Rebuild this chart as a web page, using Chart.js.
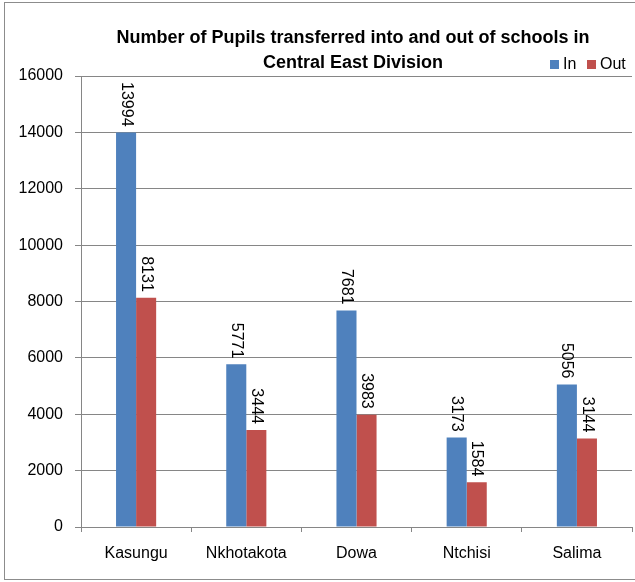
<!DOCTYPE html>
<html>
<head>
<meta charset="utf-8">
<script src="https://cdn.jsdelivr.net/npm/chart.js@4"></script>
<style>
  html, body { margin: 0; padding: 0; background: #fff; }
  #wrap { width: 635px; height: 582px; }
</style>
</head>
<body>
<div id="wrap"><canvas id="transferChart" width="635" height="582"></canvas></div>
<script>
const districts = ['Kasungu', 'Nkhotakota', 'Dowa', 'Ntchisi', 'Salima'];
const pupilsIn = [13994, 5771, 7681, 3173, 5056];
const pupilsOut = [8131, 3444, 3983, 1584, 3144];
const yTicks = [0, 2000, 4000, 6000, 8000, 10000, 12000, 14000, 16000];
const titleLines = ['Number of Pupils transferred into and out of schools in', 'Central East Division'];

const FONT = "'Liberation Sans', Arial, sans-serif";
const GRID = '#868686';

// white page and the thin frame around the whole chart
const framePlugin = {
    id: 'frame',
    beforeDraw(chart) {
        const ctx = chart.ctx;
        ctx.save();
        ctx.fillStyle = '#fff';
        ctx.fillRect(0, 0, chart.width, chart.height);
        ctx.strokeStyle = '#8c8c8c';
        ctx.lineWidth = 1;
        ctx.strokeRect(4.5, 2.5, chart.width + 5, chart.height - 5);
        ctx.restore();
    }
};

// two-line bold title and the small legend at the top right
const headerPlugin = {
    id: 'header',
    afterDraw(chart) {
        const ctx = chart.ctx;
        ctx.save();
        ctx.fillStyle = '#000';
        ctx.font = 'bold 18px ' + FONT;
        ctx.textAlign = 'center';
        ctx.textBaseline = 'middle';
        ctx.fillText(titleLines[0], 353, 38);
        ctx.fillText(titleLines[1], 353, 63);

        ctx.font = '16px ' + FONT;
        ctx.textAlign = 'left';
        let x = 550;
        chart.data.datasets.forEach(ds => {
            ctx.fillStyle = ds.backgroundColor;
            ctx.fillRect(x, 60, 9, 9);
            ctx.fillStyle = '#000';
            ctx.fillText(ds.label, x + 13, 65);
            x += 37;
        });
        ctx.restore();
    }
};

// values written sideways just above each bar
const valueLabels = {
    id: 'valueLabels',
    afterDatasetsDraw(chart) {
        const ctx = chart.ctx;
        ctx.save();
        ctx.fillStyle = '#000';
        ctx.font = '16px ' + FONT;
        ctx.textAlign = 'right';
        ctx.textBaseline = 'middle';
        chart.data.datasets.forEach((ds, i) => {
            chart.getDatasetMeta(i).data.forEach((bar, j) => {
                ctx.save();
                ctx.translate(bar.x, bar.y - 6);
                ctx.rotate(Math.PI / 2);
                ctx.fillText(String(ds.data[j]), 0, 0);
                ctx.restore();
            });
        });
        ctx.restore();
    }
};

const ctx = document.getElementById('transferChart').getContext('2d');
new Chart(ctx, {
    type: 'bar',
    data: {
        labels: districts,
        datasets: [
            { label: 'In', data: pupilsIn, backgroundColor: '#4F81BD' },
            { label: 'Out', data: pupilsOut, backgroundColor: '#C0504D' }
        ]
    },
    options: {
        responsive: false,
        animation: false,
        layout: { padding: { left: 0, right: 3, top: 76, bottom: 0 } },
        categoryPercentage: 0.364,
        barPercentage: 1,
        plugins: {
            legend: { display: false },
            title: { display: false },
            tooltip: { enabled: false }
        },
        scales: {
            x: {
                grid: {
                    offset: true,
                    drawOnChartArea: false,
                    drawTicks: true,
                    tickLength: 5,
                    color: GRID
                },
                border: { color: GRID },
                ticks: { color: '#000', padding: 12, font: { family: FONT, size: 16 } },
                afterFit(scale) { scale.height = 55; }
            },
            y: {
                min: 0,
                max: 16000,
                grid: { color: GRID, tickLength: 6 },
                border: { color: GRID },
                afterBuildTicks(scale) { scale.ticks = yTicks.map(v => ({ value: v })); },
                ticks: {
                    color: '#000',
                    padding: 12,
                    font: { family: FONT, size: 16 },
                    callback: v => String(v)
                },
                afterFit(scale) { scale.width = 81; }
            }
        }
    },
    plugins: [framePlugin, headerPlugin, valueLabels]
});
</script>
</body>
</html>
